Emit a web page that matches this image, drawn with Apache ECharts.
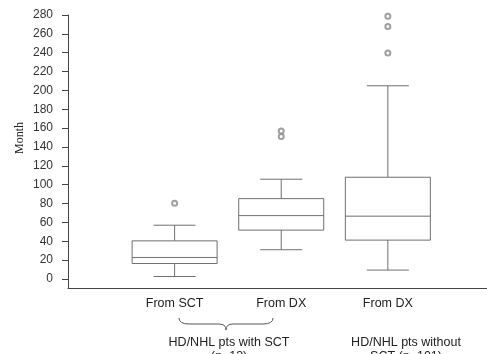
<!DOCTYPE html>
<html>
<head>
<meta charset="utf-8">
<script src="https://cdn.jsdelivr.net/npm/echarts@6/dist/echarts.min.js"></script>
<style>
  html, body { margin: 0; padding: 0; background: #fff; }
  #chart { width: 487px; height: 354px; }
</style>
</head>
<body>
<div id="chart"></div>
<script>
// groups along the x axis (positions 1..3)
const categories = ['From SCT', 'From DX', 'From DX'];
const positions = [1, 2, 3];

// five-number summaries (months)
const mins = [2.6, 31, 9.4];
const q1s = [16.4, 51.8, 41.2];
const medians = [22.8, 67.2, 66.6];
const q3s = [40.4, 85.2, 107.9];
const maxs = [57, 105.8, 204.9];

// outliers per group
const outliersSCT = [80.4];
const outliersDXWith = [157, 151];
const outliersDXWithout = [278.6, 267.7, 239.8];

const yTicks = [0, 20, 40, 60, 80, 100, 120, 140, 160, 180, 200, 220, 240, 260, 280];

const groupLabels = ['HD/NHL pts with SCT\n(n=13)', 'HD/NHL pts without\nSCT (n=101)'];

const boxData = positions.map((p, i) => [p, mins[i], q1s[i], medians[i], q3s[i], maxs[i]]);
const outlierData = []
  .concat(outliersSCT.map(v => [1, v]))
  .concat(outliersDXWith.map(v => [2, v]))
  .concat(outliersDXWithout.map(v => [3, v]));

const chart = echarts.init(document.getElementById('chart'));
const lineColor = '#707070';
const sans = 'Liberation Sans, Arial, sans-serif';

const option = {
  animation: false,
  grid: { left: 68, right: 0, top: 15, bottom: 66 },
  xAxis: {
    type: 'value',
    min: 0,
    max: 3.93,
    splitLine: { show: false },
    axisLine: { show: true, onZero: false, lineStyle: { color: '#444', width: 1 } },
    axisTick: { show: false },
    axisLabel: {
      customValues: positions,
      formatter: v => categories[positions.indexOf(v)] || '',
      color: '#222',
      fontSize: 12.5,
      fontFamily: sans,
      margin: 9
    }
  },
  yAxis: {
    type: 'value',
    min: -9.6,
    max: 280,
    splitLine: { show: false },
    axisLine: { show: true, onZero: false, lineStyle: { color: '#444', width: 1 } },
    axisTick: { show: true, customValues: yTicks, length: 6, lineStyle: { color: '#444' } },
    axisLabel: { customValues: yTicks, color: '#333', fontSize: 12, fontFamily: sans, margin: 15 }
  },
  graphic: [
    {
      type: 'text', x: 20, y: 138, rotation: Math.PI / 2,
      style: { text: 'Month', fill: '#222', font: '12px Liberation Serif, Times New Roman, serif', textAlign: 'center', textVerticalAlign: 'middle' }
    },
    // brace under the first two groups
    { type: 'bezierCurve', shape: { x1: 179, y1: 318, cpx1: 179, cpy1: 324, x2: 189, y2: 324 }, style: { stroke: '#555', fill: null, lineWidth: 1 } },
    { type: 'line', shape: { x1: 189, y1: 324, x2: 219, y2: 324 }, style: { stroke: '#555', lineWidth: 1 } },
    { type: 'bezierCurve', shape: { x1: 219, y1: 324, cpx1: 226, cpy1: 324, x2: 226, y2: 330 }, style: { stroke: '#555', fill: null, lineWidth: 1 } },
    { type: 'bezierCurve', shape: { x1: 226, y1: 330, cpx1: 226, cpy1: 324, x2: 233, y2: 324 }, style: { stroke: '#555', fill: null, lineWidth: 1 } },
    { type: 'line', shape: { x1: 233, y1: 324, x2: 263, y2: 324 }, style: { stroke: '#555', lineWidth: 1 } },
    { type: 'bezierCurve', shape: { x1: 263, y1: 324, cpx1: 273, cpy1: 324, x2: 273, y2: 318 }, style: { stroke: '#555', fill: null, lineWidth: 1 } },
    {
      type: 'text', x: 229, y: 335,
      style: { text: groupLabels[0], fill: '#222', font: '12.5px ' + sans, textAlign: 'center', textVerticalAlign: 'top', lineHeight: 14.5 }
    },
    {
      type: 'text', x: 406, y: 335,
      style: { text: groupLabels[1], fill: '#222', font: '12.5px ' + sans, textAlign: 'center', textVerticalAlign: 'top', lineHeight: 14.5 }
    }
  ],
  series: [
    {
      type: 'custom',
      data: boxData,
      encode: { x: 0, y: [1, 2, 3, 4, 5] },
      renderItem: function (params, api) {
        const x = api.value(0);
        const pMin = api.coord([x, api.value(1)]);
        const pQ1 = api.coord([x, api.value(2)]);
        const pMed = api.coord([x, api.value(3)]);
        const pQ3 = api.coord([x, api.value(4)]);
        const pMax = api.coord([x, api.value(5)]);
        const cx = pMed[0];
        const hb = 42.5, hc = 21;
        const st = { stroke: lineColor, lineWidth: 1 };
        return {
          type: 'group',
          children: [
            { type: 'line', shape: { x1: cx, y1: pQ3[1], x2: cx, y2: pMax[1] }, style: st },
            { type: 'line', shape: { x1: cx, y1: pQ1[1], x2: cx, y2: pMin[1] }, style: st },
            { type: 'line', shape: { x1: cx - hc, y1: pMax[1], x2: cx + hc, y2: pMax[1] }, style: st },
            { type: 'line', shape: { x1: cx - hc, y1: pMin[1], x2: cx + hc, y2: pMin[1] }, style: st },
            { type: 'rect', shape: { x: cx - hb, y: pQ3[1], width: hb * 2, height: pQ1[1] - pQ3[1] }, style: { stroke: lineColor, lineWidth: 1, fill: '#fff' } },
            { type: 'line', shape: { x1: cx - hb, y1: pMed[1], x2: cx + hb, y2: pMed[1] }, style: st }
          ]
        };
      }
    },
    {
      type: 'scatter',
      data: outlierData,
      symbol: 'emptyCircle',
      symbolSize: 5,
      itemStyle: { color: '#888', borderWidth: 1 }
    }
  ]
};

chart.setOption(option);
</script>
</body>
</html>
